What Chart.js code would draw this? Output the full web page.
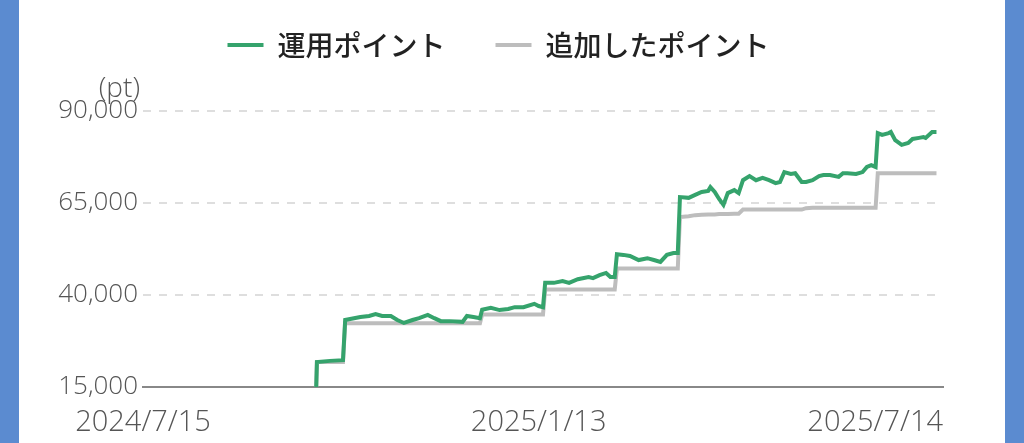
<!DOCTYPE html>
<html lang="ja">
<head>
<meta charset="utf-8">
<title>ポイント運用</title>
<script src="https://cdn.jsdelivr.net/npm/chart.js@4.4.1/dist/chart.umd.min.js"></script>
<style>
    html, body { margin: 0; padding: 0; background: #5b8bd0; overflow: hidden; }
    #wrap { position: absolute; left: 19px; top: 0; width: 986px; height: 443px; background: #fff; }
</style>
</head>
<body>
<div id="wrap"><canvas id="grafico"></canvas></div>
<script>
// =========================
// Dados
// =========================

const START_DATE = "2024/7/15";
const END_DATE   = "2025/7/18";

const xTickLabels = ["2024/7/15", "2025/1/13", "2025/7/14"];
const yTicks      = [15000, 40000, 65000, 90000];
const unitLabel   = "(pt)";

const seriesNames = ["運用ポイント", "追加したポイント"];

const dates = [
    "2024/7/15", "2024/10/2", "2024/10/3", "2024/10/9", "2024/10/15", "2024/10/16",
    "2024/10/23", "2024/10/27", "2024/10/30", "2024/11/2", "2024/11/6", "2024/11/9",
    "2024/11/12", "2024/11/16", "2024/11/19", "2024/11/23", "2024/11/26", "2024/11/29",
    "2024/12/3", "2024/12/9", "2024/12/11", "2024/12/14", "2024/12/17", "2024/12/18",
    "2024/12/22", "2024/12/26", "2024/12/30", "2025/1/2", "2025/1/6", "2025/1/11",
    "2025/1/13", "2025/1/15", "2025/1/16", "2025/1/20", "2025/1/24", "2025/1/27",
    "2025/1/31", "2025/2/5", "2025/2/7", "2025/2/10", "2025/2/13", "2025/2/15",
    "2025/2/17", "2025/2/18", "2025/2/21", "2025/2/24", "2025/2/28", "2025/3/4",
    "2025/3/7", "2025/3/10", "2025/3/13", "2025/3/16", "2025/3/18", "2025/3/19",
    "2025/3/23", "2025/3/26", "2025/3/29", "2025/4/1", "2025/4/2", "2025/4/4",
    "2025/4/6", "2025/4/8", "2025/4/10", "2025/4/13", "2025/4/15", "2025/4/17",
    "2025/4/20", "2025/4/23", "2025/4/26", "2025/4/29", "2025/5/2", "2025/5/4",
    "2025/5/6", "2025/5/9", "2025/5/11", "2025/5/14", "2025/5/16", "2025/5/19",
    "2025/5/22", "2025/5/24", "2025/5/27", "2025/5/31", "2025/6/2", "2025/6/4",
    "2025/6/8", "2025/6/11", "2025/6/13", "2025/6/15", "2025/6/17", "2025/6/18",
    "2025/6/20", "2025/6/23", "2025/6/24", "2025/6/26", "2025/6/29", "2025/7/2",
    "2025/7/4", "2025/7/7", "2025/7/9", "2025/7/10", "2025/7/13", "2025/7/15"
];

const unyouPoints = [
    0, 0, 21800, 22100, 22300, 33200,
    34000, 34300, 34800, 34300, 34300, 33200,
    32400, 33200, 33700, 34600, 33700, 32900,
    32900, 32700, 34300, 34000, 33700, 36000,
    36500, 35900, 36200, 36700, 36700, 37600,
    37000, 36700, 43300, 43300, 43800, 43300,
    44300, 44900, 44600, 45400, 46000, 44900,
    44900, 51100, 50900, 50600, 49500, 50000,
    49500, 49000, 50900, 51400, 51400, 66600,
    66400, 67200, 68000, 68300, 69300, 68000,
    66100, 64500, 67700, 68500, 67700, 71200,
    72300, 71200, 71800, 71200, 70400, 70700,
    73400, 72900, 73100, 70700, 70700, 71200,
    72300, 72600, 72600, 72100, 73100, 73100,
    72900, 73400, 74800, 75300, 74800, 84000,
    83500, 84000, 84300, 82100, 80800, 81300,
    82400, 82700, 82900, 82700, 84300, 84300
];

const tsuikaPoints = [
    0, 0, 21800, 21800, 21800, 32300,
    32300, 32300, 32300, 32300, 32300, 32300,
    32300, 32300, 32300, 32300, 32300, 32300,
    32300, 32300, 32300, 32300, 32300, 34700,
    34700, 34700, 34700, 34700, 34700, 34700,
    34700, 34700, 41500, 41500, 41500, 41500,
    41500, 41500, 41500, 41500, 41500, 41500,
    41500, 47200, 47200, 47200, 47200, 47200,
    47200, 47200, 47200, 47200, 47200, 61200,
    61400, 61700, 61800, 61900, 61900, 61900,
    62000, 62000, 62000, 62100, 62100, 63200,
    63200, 63200, 63200, 63200, 63200, 63200,
    63200, 63200, 63200, 63200, 63600, 63700,
    63700, 63700, 63700, 63700, 63700, 63700,
    63700, 63700, 63700, 63700, 63700, 73100,
    73100, 73100, 73100, 73100, 73100, 73100,
    73100, 73100, 73100, 73100, 73100, 73100
];

// =========================
// Helpers
// =========================

function diasDesde(str) {
    const [y, m, d] = str.split("/").map(Number);
    const [y0, m0, d0] = START_DATE.split("/").map(Number);
    return Math.round((Date.UTC(y, m - 1, d) - Date.UTC(y0, m0 - 1, d0)) / 86400000);
}

function pontos(valores) {
    return dates.map((d, i) => ({ x: diasDesde(d), y: valores[i] }));
}

const FONT     = "'Noto Sans CJK JP', 'Noto Sans', sans-serif";
const NUM_FONT = "'Open Sans', Roboto, sans-serif";

// =========================
// Plugins
// =========================

// espaço para a unidade "(pt)" abaixo da legenda
const unidadePlugin = {
    id: "unidade",
    afterInit(chart) {
        const box = {
            position: "top", weight: 500, fullSize: true, options: {},
            isHorizontal() { return true; },
            update(maxWidth) { this.width = maxWidth; this.height = 42; },
            draw() {
                const ctx = chart.ctx;
                ctx.save();
                ctx.font = "300 28px " + NUM_FONT;
                ctx.fillStyle = "#555";
                ctx.textAlign = "right";
                ctx.textBaseline = "middle";
                ctx.fillText(unitLabel, chart.chartArea.left - 3, this.top + 20);
                ctx.restore();
            }
        };
        Chart.layouts.addBox(chart, box);
    }
};

// último rótulo do eixo x alinhado à direita
const ultimoRotuloPlugin = {
    id: "ultimoRotulo",
    beforeDraw(chart) {
        const s = chart.scales.x;
        const items = s.getLabelItems();
        const last = items[items.length - 1];
        if (!last) return;
        last.options.textAlign = "right";
        last.options.translation[0] = s.right;
    }
};

// =========================
// Chart
// =========================

const grafico = new Chart(document.getElementById("grafico"), {
    type: "line",
    data: {
        datasets: [
            {
                label: seriesNames[0],
                data: pontos(unyouPoints),
                borderColor: "#35a36c",
                backgroundColor: "#35a36c",
                borderWidth: 4,
                pointRadius: 0,
                tension: 0
            },
            {
                label: seriesNames[1],
                data: pontos(tsuikaPoints),
                borderColor: "#bdbdbd",
                backgroundColor: "#bdbdbd",
                borderWidth: 4,
                pointRadius: 0,
                tension: 0
            }
        ]
    },
    options: {
        responsive: true,
        maintainAspectRatio: false,
        animation: false,
        layout: { padding: { top: -19, left: 35, right: 62, bottom: 0 } },
        plugins: {
            tooltip: { enabled: false },
            legend: {
                position: "top",
                labels: {
                    boxWidth: 36,
                    boxHeight: 4,
                    padding: 50,
                    color: "#222",
                    font: { family: FONT, size: 28, weight: 500 },
                    generateLabels(chart) {
                        return Chart.defaults.plugins.legend.labels.generateLabels(chart)
                            .map(it => ({ ...it, lineWidth: 0 }));
                    }
                }
            }
        },
        scales: {
            x: {
                type: "linear",
                min: 0,
                max: diasDesde(END_DATE),
                grid: { display: false, drawTicks: false },
                border: { display: true, color: "#888", width: 2 },
                afterFit: (scale) => {
                    scale.height = 56;
                    scale.paddingLeft = 0;
                    scale.paddingRight = 0;
                },
                afterBuildTicks: (scale) => {
                    scale.ticks = xTickLabels.map(l => ({ value: diasDesde(l) }));
                },
                ticks: {
                    autoSkip: false,
                    maxRotation: 0,
                    padding: 18,
                    color: "#555",
                    font: { family: NUM_FONT, size: 29, weight: 300 },
                    callback: (v) => xTickLabels.find(l => diasDesde(l) === v) || ""
                }
            },
            y: {
                min: yTicks[0],
                max: yTicks[yTicks.length - 1],
                grid: { color: "#dedede", lineWidth: 2, drawTicks: false },
                border: { display: false, dash: [8, 8] },
                afterFit: (scale) => { scale.width = 89; },
                afterBuildTicks: (scale) => {
                    scale.ticks = yTicks.map(v => ({ value: v }));
                },
                ticks: {
                    padding: 5,
                    color: "#555",
                    font: { family: NUM_FONT, size: 26, weight: 300 },
                    callback: (v) => v.toLocaleString("en-US")
                }
            }
        }
    },
    plugins: [unidadePlugin, ultimoRotuloPlugin]
});
</script>
</body>
</html>
